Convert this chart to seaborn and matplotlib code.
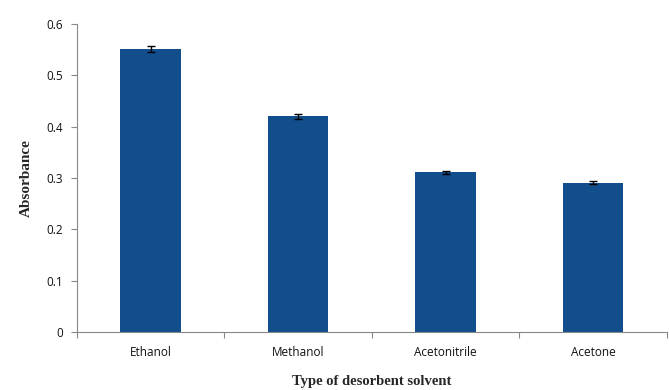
import matplotlib
matplotlib.use("Agg")
import matplotlib.pyplot as plt
import seaborn as sns
import pandas as pd
from matplotlib.ticker import FixedLocator

categories = ["Ethanol", "Methanol", "Acetonitrile", "Acetone"]
values = [0.551, 0.420, 0.311, 0.291]
errors = [0.006, 0.004, 0.003, 0.003]
yticks = [0, 0.1, 0.2, 0.3, 0.4, 0.5, 0.6]
ytick_labels = ["0", "0.1", "0.2", "0.3", "0.4", "0.5", "0.6"]

sns.set_style("white")
plt.rcParams['font.family'] = ['Open Sans', 'DejaVu Sans']

df = pd.DataFrame({"solvent": categories, "absorbance": values})

fig = plt.figure(figsize=(6.69, 3.90), dpi=100)
ax = fig.add_axes([0.115, 0.149, 0.882, 0.789])
sns.barplot(data=df, x="solvent", y="absorbance", color="#124e8c", saturation=1,
            width=0.41, errorbar=None, linewidth=0, ax=ax)
ax.errorbar(x=list(range(len(categories))), y=values, yerr=errors, fmt="none",
            ecolor="black", elinewidth=1, capsize=3, capthick=1)

ax.set_xlim(-0.5, len(categories) - 0.5)
ax.set_ylim(0, 0.6)
ax.set_yticks(yticks)
ax.set_yticklabels(ytick_labels, fontsize=8.5, color="#111111")
ax.set_xticks(range(len(categories)))
ax.set_xticklabels(categories, fontsize=8.5, color="#111111")
ax.tick_params(axis="x", which="major", length=0, pad=10, bottom=False)
ax.xaxis.set_minor_locator(FixedLocator([i - 0.5 for i in range(len(categories) + 1)]))
ax.tick_params(axis="x", which="minor", length=4, color="#888888", width=0.8, bottom=True)
ax.tick_params(axis="y", which="major", length=4, color="#888888", width=0.8, left=True, pad=6)

for s in ["top", "right"]:
    ax.spines[s].set_visible(False)
for s in ["left", "bottom"]:
    ax.spines[s].set_color("#888888")
    ax.spines[s].set_linewidth(0.8)

ax.set_xlabel("Type of desorbent solvent", fontsize=10.5, fontweight="bold",
              family=["Liberation Serif"], labelpad=12)
ax.set_ylabel("Absorbance", fontsize=11, fontweight="bold",
              family=["Liberation Serif"], labelpad=10)

fig.savefig("out.png", dpi=100)
